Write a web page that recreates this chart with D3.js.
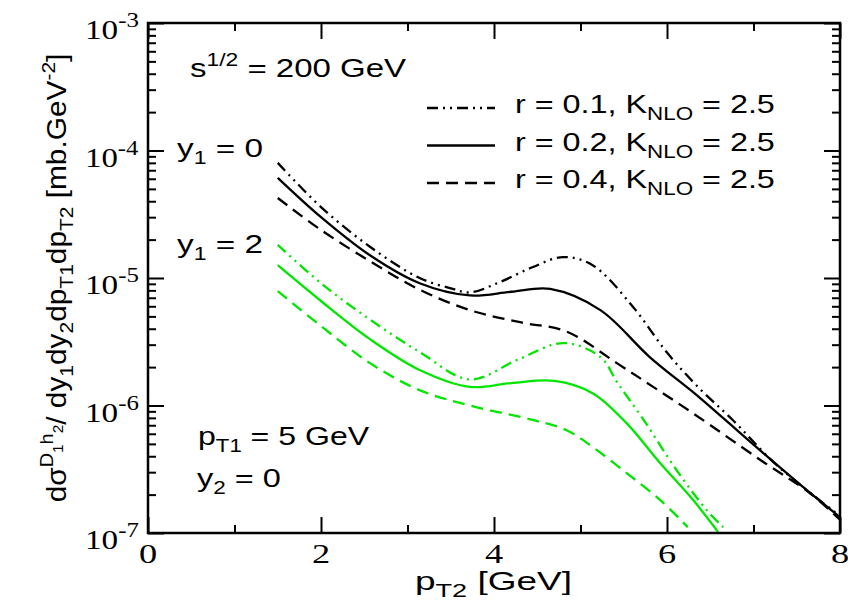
<!DOCTYPE html>
<html>
<head>
<meta charset="utf-8">
<title>D1 h2 correlations</title>
<style>
body {
	margin: 0;
	background: white;
}
svg text {
	font-family: "Liberation Sans", Arial, sans-serif;
	font-size: 26px;
	fill: black;
}
svg text.num {
	font-family: "Liberation Serif", "Times New Roman", serif;
	font-size: 28px;
}
.frame {
	fill: none;
	stroke: black;
	stroke-width: 2.5px;
}
.axis .domain { display: none; }
.axis .tick line { stroke: black; stroke-width: 2px; }
.curve {
	fill: none;
	stroke-width: 2.3px;
}
</style>
</head>
<body>
<svg id="chart" width="848" height="609"></svg>
<script src="https://cdn.jsdelivr.net/npm/d3@7/dist/d3.min.js"></script>
<script>

// tick values
var xMajor = [0, 2, 4, 6, 8];
var xMinor = [1, 3, 5, 7];
var yExponents = [-7, -6, -5, -4, -3];

// y1 = 0 (black)
var pt_y0_r01  = [1.5, 2.0, 2.57, 3.14, 3.5, 3.72, 4.07, 4.45, 4.8, 5.14, 5.61, 6.0, 6.38, 6.76, 7.27, 8.0];
var sig_y0_r01 = [8.0e-5, 3.6e-5, 1.75e-5, 1.0e-5, 8.3e-6, 7.7e-6, 9.3e-6, 1.22e-5, 1.46e-5, 1.26e-5, 5.9e-6, 2.6e-6, 1.35e-6, 7.7e-7, 3.4e-7, 1.36e-7];

var pt_y0_r02  = [1.5, 2.0, 2.57, 3.14, 3.72, 4.2, 4.65, 5.23, 5.8, 6.38, 6.96, 7.54, 8.0];
var sig_y0_r02 = [6.1e-5, 3.0e-5, 1.5e-5, 9.1e-6, 7.3e-6, 7.8e-6, 8.2e-6, 5.6e-6, 2.4e-6, 1.15e-6, 5.2e-7, 2.4e-7, 1.33e-7];

var pt_y0_r04  = [1.5, 2.0, 2.57, 3.14, 3.72, 4.3, 4.84, 5.42, 5.84, 6.3, 7.08, 7.65, 8.0];
var sig_y0_r04 = [4.24e-5, 2.38e-5, 1.35e-5, 8.1e-6, 5.6e-6, 4.5e-6, 3.8e-6, 2.15e-6, 1.4e-6, 8.7e-7, 3.74e-7, 2.06e-7, 1.27e-7];

// y1 = 2 (green)
var pt_y2_r01  = [1.5, 2.0, 2.57, 3.14, 3.72, 4.27, 4.8, 5.23, 5.43, 5.73, 6.11, 6.46, 6.65];
var sig_y2_r01 = [1.82e-5, 9.1e-6, 4.7e-6, 2.63e-6, 1.6e-6, 2.28e-6, 3.09e-6, 2.4e-6, 1.5e-6, 7.7e-7, 3.12e-7, 1.51e-7, 1.11e-7];

var pt_y2_r02  = [1.5, 2.0, 2.57, 3.14, 3.72, 4.2, 4.7, 5.14, 5.53, 5.92, 6.3, 6.59];
var sig_y2_r02 = [1.26e-5, 6.6e-6, 3.3e-6, 1.9e-6, 1.4e-6, 1.5e-6, 1.56e-6, 1.25e-6, 7.3e-7, 3.54e-7, 1.82e-7, 1.02e-7];

var pt_y2_r04  = [1.5, 2.0, 2.57, 3.14, 3.72, 4.45, 4.84, 5.14, 5.53, 5.92, 6.24];
var sig_y2_r04 = [7.9e-6, 4.2e-6, 2.14e-6, 1.32e-6, 1.0e-6, 7.7e-7, 6.4e-7, 4.73e-7, 2.96e-7, 1.82e-7, 1.11e-7];

var legendLabels = ["0.1", "0.2", "0.4"];

var dashDot = "11,5,2,5,2,5";
var dashed = "12,7";
var green = "#00e600";

var series = [
	{pt: pt_y0_r01, sig: sig_y0_r01, color: "black", dash: dashDot},
	{pt: pt_y0_r02, sig: sig_y0_r02, color: "black", dash: null},
	{pt: pt_y0_r04, sig: sig_y0_r04, color: "black", dash: dashed},
	{pt: pt_y2_r01, sig: sig_y2_r01, color: green, dash: dashDot},
	{pt: pt_y2_r02, sig: sig_y2_r02, color: green, dash: null},
	{pt: pt_y2_r04, sig: sig_y2_r04, color: green, dash: dashed}
];

var plotLeft = 148, plotRight = 840, plotTop = 23, plotBottom = 533;

var x = d3.scaleLinear().domain([0, 8]).range([plotLeft, plotRight]);
var y = d3.scaleLog().domain([1e-7, 1e-3]).range([plotBottom, plotTop]);

var svg = d3.select("#chart");

// curves, clipped to the frame
svg.append("clipPath")
	.attr("id", "plot")
  .append("rect")
	.attr("x", plotLeft).attr("y", plotTop)
	.attr("width", plotRight - plotLeft).attr("height", plotBottom - plotTop);

var line = d3.line()
	.curve(d3.curveCatmullRom.alpha(0.5))
	.x(function(d) { return x(d[0]); })
	.y(function(d) { return y(d[1]); });

svg.append("g")
	.attr("clip-path", "url(#plot)")
  .selectAll("path")
	.data(series)
  .enter().append("path")
	.attr("class", "curve")
	.attr("stroke", function(d) { return d.color; })
	.attr("stroke-dasharray", function(d) { return d.dash; })
	.attr("d", function(d) { return line(d3.zip(d.pt, d.sig)); });

// ticks on all four sides, pointing inward
var yMajor = yExponents.map(function(e) { return Math.pow(10, e); });
var yMinor = [];
yExponents.slice(0, -1).forEach(function(e) {
	for (var k = 2; k <= 9; k++) yMinor.push(k * Math.pow(10, e));
});

function ticks(axis, values, size, transform) {
	svg.append("g")
		.attr("class", "axis")
		.attr("transform", transform)
		.call(axis.tickValues(values).tickSize(-size).tickFormat(""));
}
ticks(d3.axisBottom(x), xMajor, 16, "translate(0," + plotBottom + ")");
ticks(d3.axisBottom(x), xMinor, 8, "translate(0," + plotBottom + ")");
ticks(d3.axisTop(x), xMajor, 16, "translate(0," + plotTop + ")");
ticks(d3.axisTop(x), xMinor, 8, "translate(0," + plotTop + ")");
ticks(d3.axisLeft(y), yMajor, 16, "translate(" + plotLeft + ",0)");
ticks(d3.axisLeft(y), yMinor, 8, "translate(" + plotLeft + ",0)");
ticks(d3.axisRight(y), yMajor, 16, "translate(" + plotRight + ",0)");
ticks(d3.axisRight(y), yMinor, 8, "translate(" + plotRight + ",0)");

svg.append("rect")
	.attr("class", "frame")
	.attr("x", plotLeft).attr("y", plotTop)
	.attr("width", plotRight - plotLeft).attr("height", plotBottom - plotTop);

// the original text is drawn wider than the fonts here, so stretch it
function stretch(t, x0, x1, baseline) {
	var w = t.node().getBBox().width;
	t.attr("transform", "translate(" + x0 + "," + baseline + ") scale(" + ((x1 - x0) / w) + ",1)");
	return t;
}

// tick labels
svg.selectAll("text.xlab")
	.data(xMajor)
  .enter().append("text")
	.attr("class", "num xlab")
	.attr("text-anchor", "middle")
	.attr("transform", function(d) { return "translate(" + x(d) + "," + (plotBottom + 30) + ") scale(1.3,1)"; })
	.text(function(d) { return d; });

yExponents.forEach(function(e) {
	var t = svg.append("text").attr("class", "num");
	t.append("tspan").text("10");
	t.append("tspan")
		.attr("dy", -12)
		.style("font-size", "21px")
		.text(e);
	stretch(t, 85, 139, y(Math.pow(10, e)) + 16);
});

// rich text helper: parts are [text, baseline offset, font size]
var SUB = 7, SUP = -11;
function rich(g, parts) {
	var shift = 0;
	parts.forEach(function(p) {
		var target = p[1] || 0;
		var t = g.append("tspan").attr("dy", target - shift).text(p[0]);
		if (p[2]) t.style("font-size", p[2] + "px");
		shift = target;
	});
	return g;
}

function label(x0, x1, baseline, parts) {
	return stretch(rich(svg.append("text"), parts), x0, x1, baseline);
}

label(190, 407, 77, [["s"], ["1/2", SUP, 18], [" = 200 GeV"]]);
label(177, 263, 157, [["y"], ["1", SUB, 18], [" = 0"]]);
label(177, 263, 253, [["y"], ["1", SUB, 18], [" = 2"]]);
label(198, 370, 445, [["p"], ["T1", SUB, 18], [" = 5 GeV"]]);
label(197, 281, 487, [["y"], ["2", SUB, 18], [" = 0"]]);

// legend
var legendDash = [dashDot, null, dashed];
legendLabels.forEach(function(r, i) {
	var by = 113 + i * 37.5;
	svg.append("line")
		.attr("class", "curve")
		.attr("x1", 427).attr("x2", 495)
		.attr("y1", by - 5).attr("y2", by - 5)
		.attr("stroke", "black")
		.attr("stroke-dasharray", legendDash[i]);
	label(515, 775, by, [["r = " + r + ", K"], ["NLO", SUB, 18], [" = 2.5"]]);
});

// axis titles
label(415, 572, 590, [["p"], ["T2", SUB, 19], [" [GeV]"]]);

var yTitle = rich(svg.append("text")
	.attr("text-anchor", "middle")
	.style("font-size", "27px"),
	[["d\u03c3"], ["D", -13, 18], ["1", -3, 14], ["h", -13, 18], ["2", -3, 14],
	 ["/ dy"], ["1", SUB, 19], ["dy"], ["2", SUB, 19], ["dp"], ["T1", SUB, 19],
	 ["dp"], ["T2", SUB, 19], [" [mb.GeV"], ["-2", SUP, 19], ["]"]]);
yTitle.attr("transform", "translate(66,278) rotate(-90) scale(" + (449 / yTitle.node().getBBox().width) + ",1)");

</script>
</body>
</html>
